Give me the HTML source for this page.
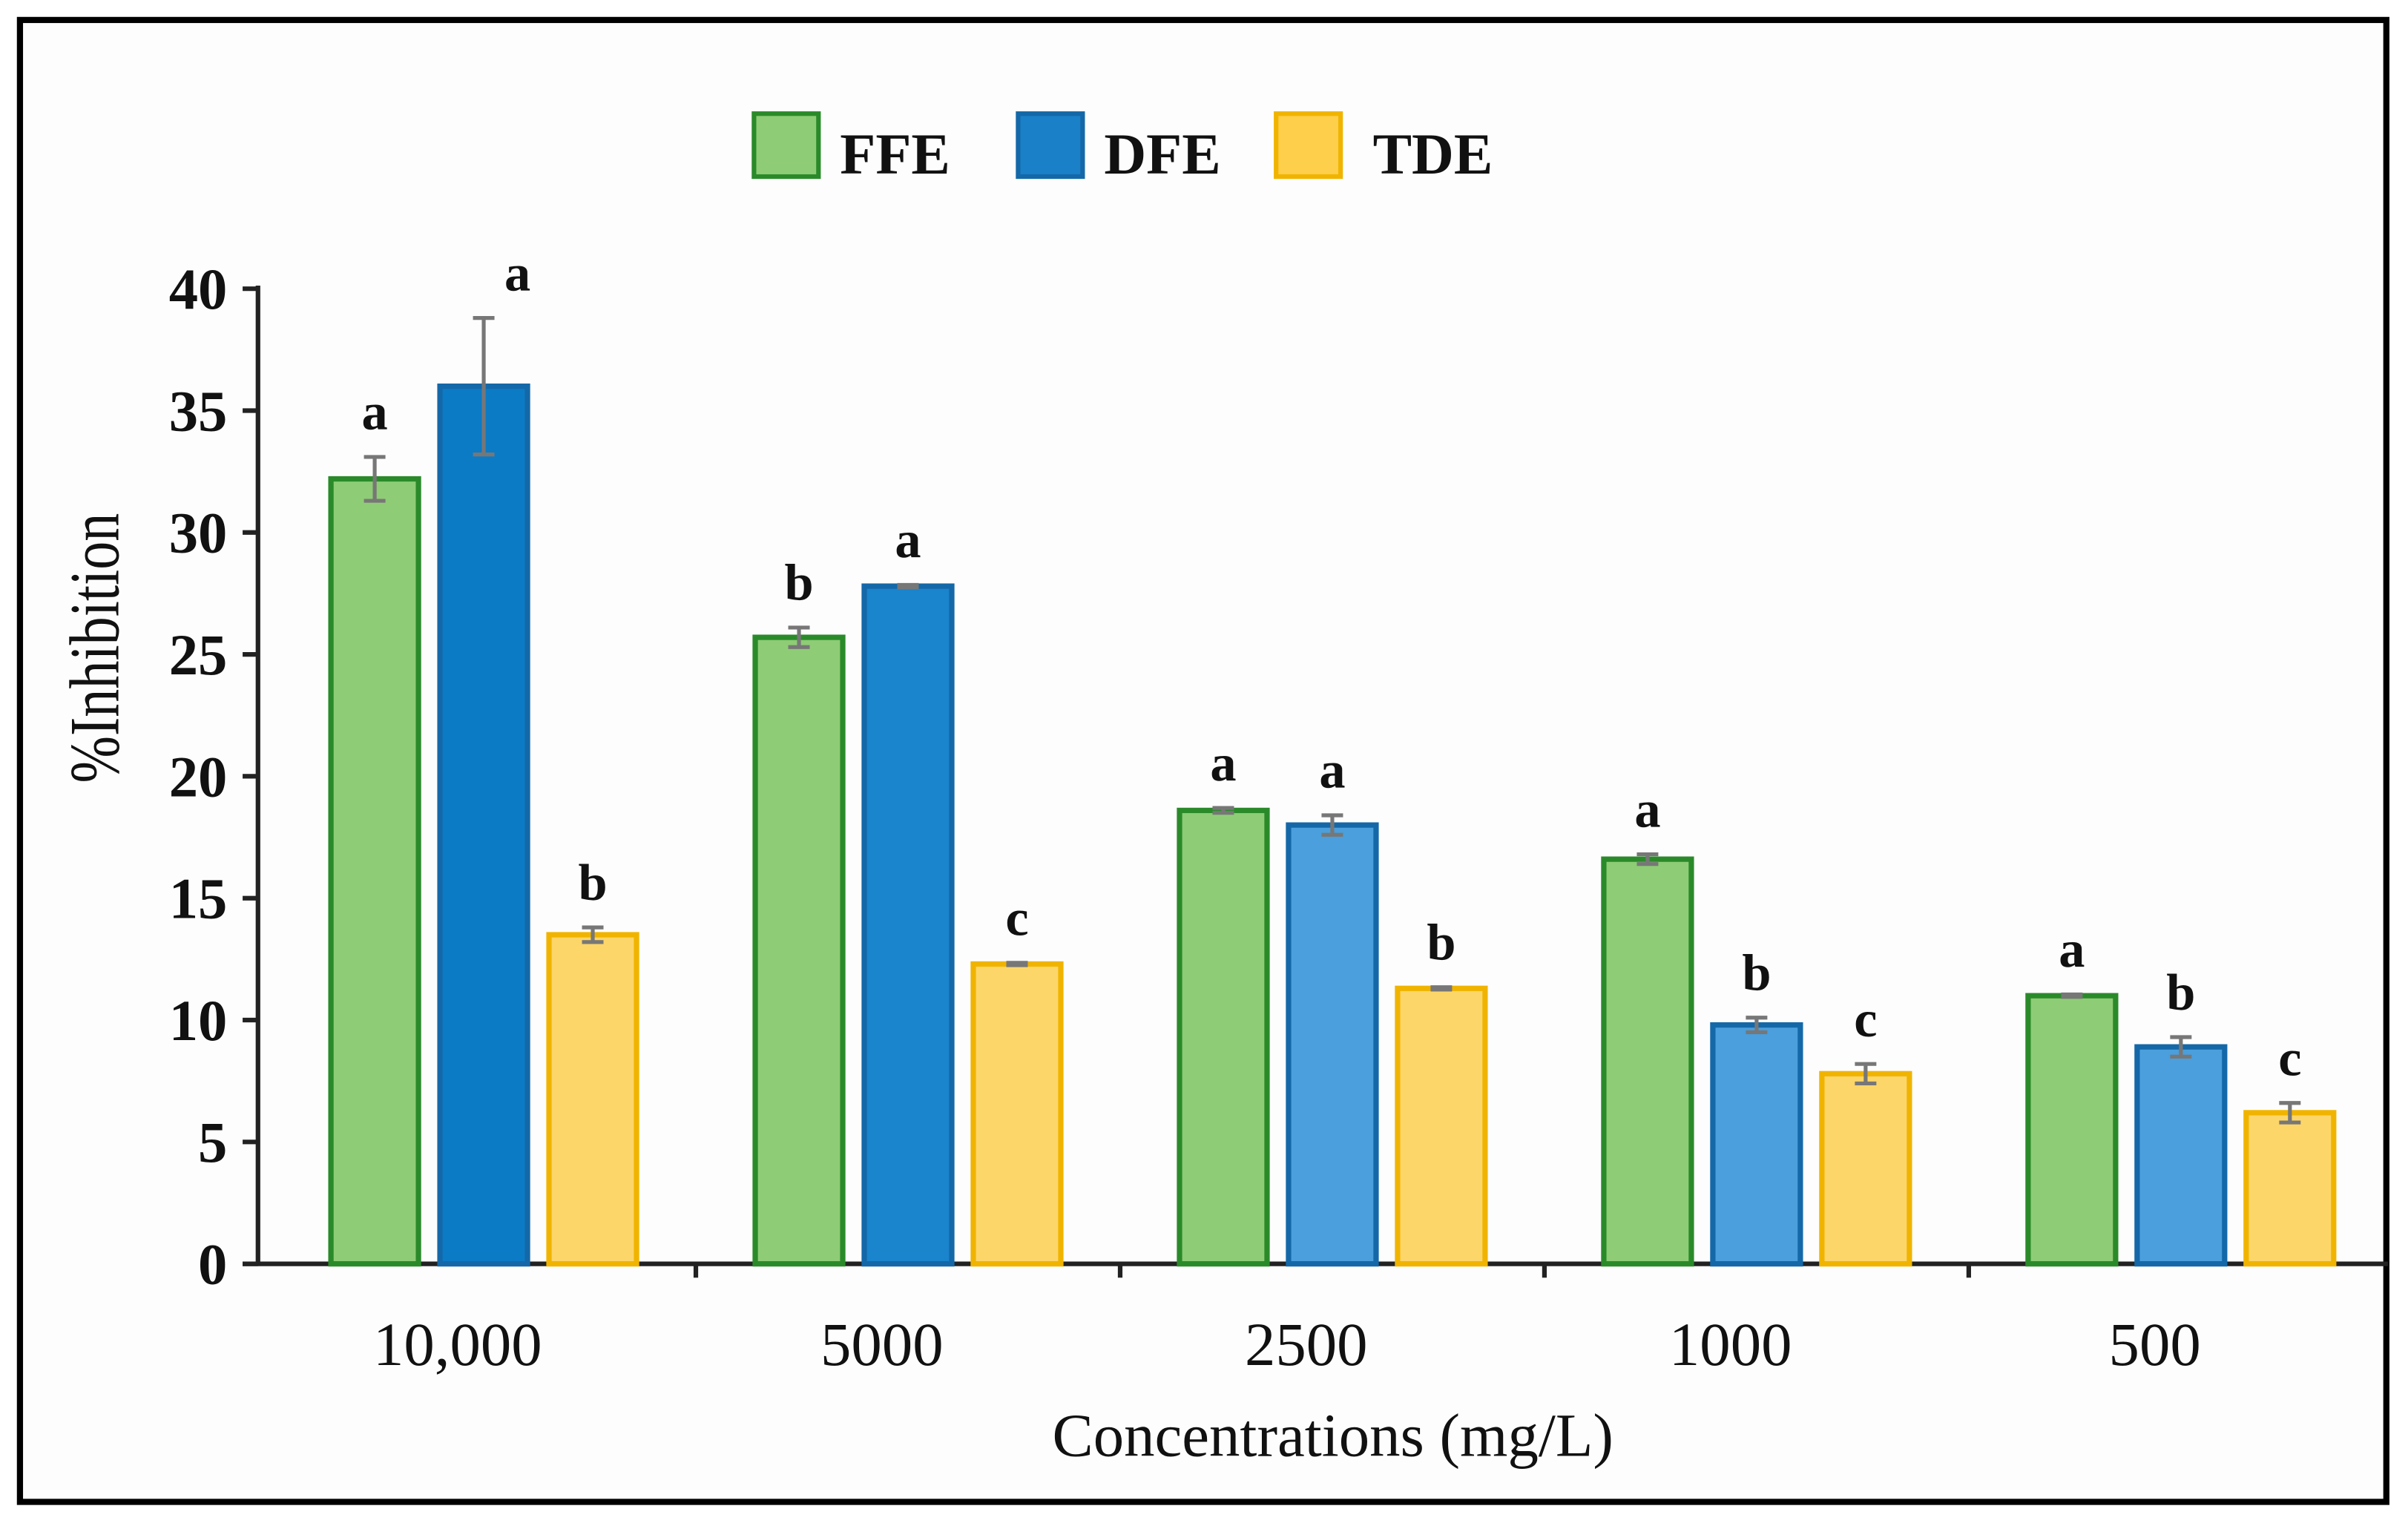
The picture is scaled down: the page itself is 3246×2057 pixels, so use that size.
<!DOCTYPE html>
<html><head><meta charset="utf-8"><style>
html,body{margin:0;padding:0;background:#fff;}
svg{display:block;}
text{font-family:"Liberation Serif",serif;fill:#111;}
</style></head><body>
<svg id="chart" width="3246" height="2057" viewBox="0 0 1568.1 993.7" xmlns="http://www.w3.org/2000/svg">
<rect x="13" y="13" width="1541" height="965" fill="#fdfdfd" stroke="#000" stroke-width="4"/>
<g id="legend">
<g><rect x="491" y="74" width="42" height="41" fill="#8fcc76" stroke="#2a8a2a" stroke-width="3"/><text x="547" y="113" font-size="38" font-weight="bold">FFE</text></g>
<g><rect x="663" y="74" width="42" height="41" fill="#1a80c8" stroke="#1468a8" stroke-width="3"/><text x="719" y="113" font-size="38" font-weight="bold">DFE</text></g>
<g><rect x="831" y="74" width="42" height="41" fill="#fdcf4a" stroke="#f0b400" stroke-width="3"/><text x="894" y="113" font-size="38" font-weight="bold">TDE</text></g>
</g>
<g id="plot"></g>
<text transform="translate(77,422) rotate(-90) scale(0.8,1)" text-anchor="middle" font-size="46">%Inhibition</text>
<text x="868" y="948" text-anchor="middle" font-size="40">Concentrations (mg/L)</text>
</svg>
<script>
const categories = ["10,000","5000","2500","1000","500"];
const seriesNames = ["FFE","DFE","TDE"];
const ffe = [32.2, 25.7, 18.6, 16.6, 11.0];
const dfe = [36.0, 27.8, 18.0, 9.8, 8.9];
const tde = [13.5, 12.3, 11.3, 7.8, 6.2];
const ffeErr = [0.9, 0.4, 0.1, 0.2, 0.05];
const dfeErr = [2.8, 0.05, 0.4, 0.3, 0.4];
const tdeErr = [0.3, 0.05, 0.05, 0.4, 0.4];
const ffeLetters = ["a","b","a","a","a"];
const dfeLetters = ["a","a","a","b","b"];
const tdeLetters = ["b","c","b","c","c"];
const yTicks = [0,5,10,15,20,25,30,35,40];

const NS = "http://www.w3.org/2000/svg";
const g = document.getElementById("plot");
const X0 = 168, X1 = 1555, Y0 = 823, Y40 = 188;
const yMax = 40;
function y(v){ return Y0 - (v / yMax) * (Y0 - Y40); }
const firstCenter = 315, step = 276.3;
function xc(i){ return firstCenter + i * step; }
const barW = 57, off = 71;
function mk(tag, attrs){ const e = document.createElementNS(NS, tag); for (const k in attrs) e.setAttribute(k, attrs[k]); return e; }

const yAxis = mk("line",{x1:X0,y1:Y40-2,x2:X0,y2:Y0,stroke:"#222","stroke-width":3});


g.appendChild(yAxis);
const xAxis = mk("line",{x1:X0-10,y1:Y0,x2:X1,y2:Y0,stroke:"#222","stroke-width":3});


g.appendChild(xAxis);
yTicks.forEach(t => {
  const tk = mk("line",{x1:X0-10,y1:y(t),x2:X0,y2:y(t),stroke:"#222","stroke-width":3});
  
  
  g.appendChild(tk);
  const tl = mk("text",{x:X0-20,y:y(t)+13,"text-anchor":"end","font-size":38,"font-weight":"bold"});
  tl.textContent = t;
  
  
  g.appendChild(tl);
});
for (let i = 1; i < categories.length; i++) {
  const sx = (xc(i-1) + xc(i)) / 2;
  const tk = mk("line",{x1:sx,y1:Y0,x2:sx,y2:Y0+9,stroke:"#222","stroke-width":3});
  
  
  g.appendChild(tk);
}
categories.forEach((c, i) => {
  const tl = mk("text",{x:xc(i)-17,y:889,"text-anchor":"middle","font-size":40});
  tl.textContent = c;
  
  
  g.appendChild(tl);
});

const series = [
  {vals:ffe, err:ffeErr, let:ffeLetters, dx:-off, fill:["#8fcc76"], stroke:"#2a8a2a", name:"ffe"},
  {vals:dfe, err:dfeErr, let:dfeLetters, dx:0, fill:["#0b7bc6","#1a84cc","#4a9fdc","#4a9fdc","#4a9fdc"], stroke:"#1468a8", name:"dfe"},
  {vals:tde, err:tdeErr, let:tdeLetters, dx:off, fill:["#fdd66a"], stroke:"#f0b400", name:"tde"}
];
series.forEach(s => {
  s.vals.forEach((v, i) => {
    const cx = xc(i) + s.dx;
    const r = mk("rect",{x:cx-barW/2,y:y(v),width:barW,height:Y0-y(v),fill:s.fill[i] || s.fill[0],stroke:s.stroke,"stroke-width":3.5});
    
    
    g.appendChild(r);
    const e = s.err[i];
    const eb = mk("path",{d:`M${cx-7},${y(v+e)}H${cx+7}M${cx},${y(v+e)}V${y(v-e)}M${cx-7},${y(v-e)}H${cx+7}`,stroke:"#777","stroke-width":2.5,fill:"none"});
    
    
    g.appendChild(eb);
    const lt = mk("text",{x:cx+(s.name==="dfe"&&i===0?22:0),y:y(v+e)-18,"text-anchor":"middle","font-size":34,"font-weight":"bold"});
    lt.textContent = s.let[i];
    
    
    g.appendChild(lt);
  });
});
</script>
</body></html>
